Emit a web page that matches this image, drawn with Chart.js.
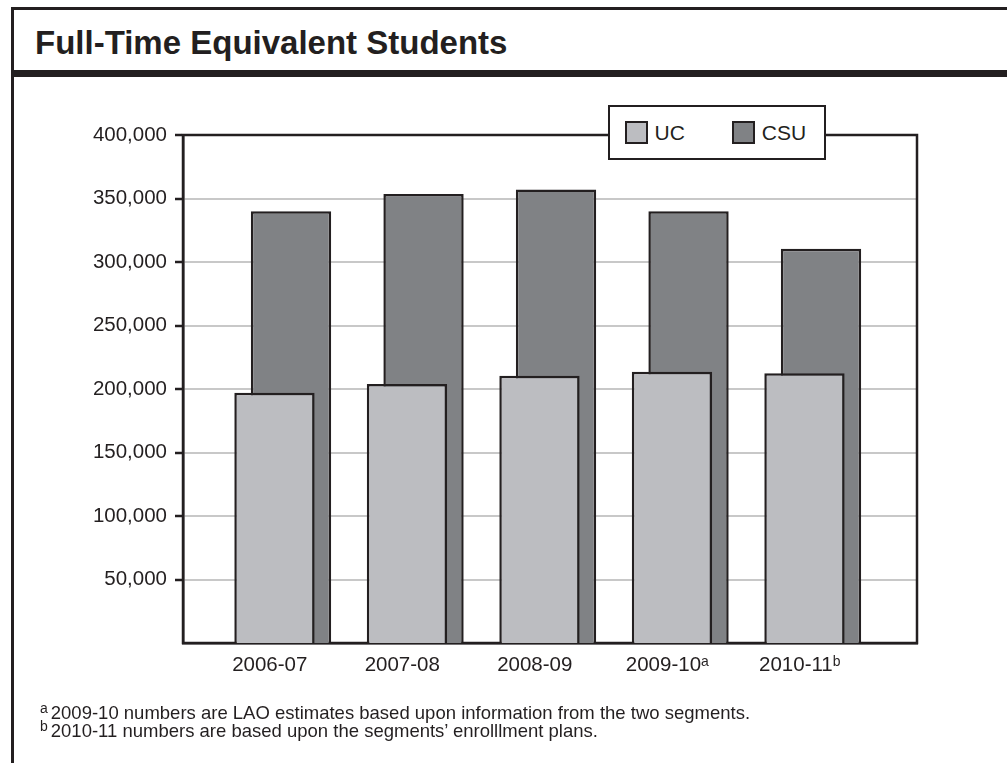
<!DOCTYPE html>
<html>
<head>
<meta charset="utf-8">
<script src="https://cdn.jsdelivr.net/npm/chart.js@4.4.1/dist/chart.umd.min.js"></script>
<style>
  body { margin: 0; background: #fff; font-family: "Liberation Sans", Arial, sans-serif; color: #231f20; }
  #page { position: relative; width: 1007px; height: 763px; overflow: hidden; }
  #frame { position: absolute; left: 11px; top: 7px; width: 1000px; height: 760px;
           border-left: 3px solid #231f20; border-top: 3px solid #231f20; }
  #rule { position: absolute; left: 11px; top: 70px; width: 996px; height: 7px; background: #231f20; }
  #title { position: absolute; left: 35px; top: 26px; font-size: 33px; line-height: 33px; font-weight: bold; white-space: nowrap; }
  #chartBox { position: absolute; left: 0; top: 0; width: 1007px; height: 763px; }
  #legend { position: absolute; left: 608px; top: 105px; width: 218px; height: 55px; box-sizing: border-box;
            border: 2.5px solid #231f20; background: #fff; display: flex; align-items: center;
            padding-left: 14.5px; font-size: 21px; }
  #legend .item { display: flex; align-items: center; margin-right: 47px; }
  #legend .swatch { width: 23px; height: 23px; box-sizing: border-box; border: 2px solid #231f20; margin-right: 7px; }
  #notes { position: absolute; left: 40px; top: 704px; font-size: 18.5px; line-height: 17.5px; white-space: nowrap; }
  #notes sup { font-size: 14px; vertical-align: 6px; line-height: 0; margin-right: 3px; }
</style>
</head>
<body>
<div id="page">
  <div id="frame"></div>
  <div id="rule"></div>
  <div id="title">Full-Time Equivalent Students</div>
  <div id="chartBox"><canvas id="fteChart"></canvas></div>
  <div id="legend"></div>
  <div id="notes">
    <div><sup>a</sup>2009-10 numbers are LAO estimates based upon information from the two segments.</div>
    <div><sup>b</sup>2010-11 numbers are based upon the segments’ enrolllment plans.</div>
  </div>
</div>
<script>
const categories = ['2006-07', '2007-08', '2008-09', '2009-10ᵃ', '2010-11ᵇ'];
const ucValues = [197000, 204000, 210500, 213500, 212500];
const csuValues = [340000, 353500, 357000, 340000, 310500];
const yTickValues = [50000, 100000, 150000, 200000, 250000, 300000, 350000, 400000];

const ink = '#231f20';

const datasets = [
  {
    label: 'UC',
    data: ucValues.map((v, i) => ({ x: i, y: v })),
    backgroundColor: '#bcbdc1',
    borderColor: ink,
    borderWidth: 2.5,
    categoryPercentage: 0.25,
    barPercentage: 4.85
  },
  {
    label: 'CSU',
    data: csuValues.map((v, i) => ({ x: i, y: v })),
    backgroundColor: '#808285',
    borderColor: ink,
    borderWidth: 2.5,
    categoryPercentage: 0.25,
    barPercentage: 4.85
  }
];

// black box round the plot area
const plotFrame = {
  id: 'plotFrame',
  beforeDatasetsDraw(chart) {
    const { ctx, chartArea: a } = chart;
    ctx.save();
    ctx.strokeStyle = ink;
    ctx.lineWidth = 2.5;
    ctx.strokeRect(a.left, a.top, a.width, a.height);
    ctx.restore();
  }
};

const fteChart = new Chart(document.getElementById('fteChart'), {
  type: 'bar',
  data: { datasets: datasets },
  plugins: [plotFrame],
  options: {
    responsive: true,
    maintainAspectRatio: false,
    animation: false,
    layout: { padding: { top: 135, right: 90, bottom: 0, left: 0 } },
    plugins: {
      legend: { display: false },
      tooltip: { enabled: false }
    },
    scales: {
      x: {
        type: 'linear',
        offset: false,
        min: -0.7528,
        max: 4.7868,
        afterBuildTicks: axis => { axis.ticks = categories.map((c, i) => ({ value: i })); },
        afterFit: axis => { axis.height = 120; },
        grid: { display: false, drawTicks: false },
        border: { color: ink, width: 2.5 },
        ticks: {
          callback: value => categories[value],
          labelOffset: -13,
          padding: 10,
          maxRotation: 0,
          autoSkip: false,
          color: ink,
          font: { family: '"Liberation Sans", Arial, sans-serif', size: 20.5 }
        }
      },
      y: {
        min: 0,
        max: 400000,
        afterBuildTicks: axis => { axis.ticks = yTickValues.map(v => ({ value: v })); },
        afterFit: axis => { axis.width = 183; },
        grid: { color: '#c8c8c8', lineWidth: 2, tickColor: ink, tickWidth: 2.5, tickLength: 8 },
        border: { color: ink, width: 2.5 },
        ticks: {
          callback: value => value.toLocaleString('en-US'),
          padding: 8,
          color: ink,
          font: { family: '"Liberation Sans", Arial, sans-serif', size: 20.5 }
        }
      }
    }
  }
});

// legend box built from the datasets
const legendEl = document.getElementById('legend');
datasets.forEach(ds => {
  const item = document.createElement('div');
  item.className = 'item';
  const sw = document.createElement('span');
  sw.className = 'swatch';
  sw.style.background = ds.backgroundColor;
  const txt = document.createElement('span');
  txt.textContent = ds.label;
  item.appendChild(sw);
  item.appendChild(txt);
  legendEl.appendChild(item);
});
</script>
</body>
</html>
